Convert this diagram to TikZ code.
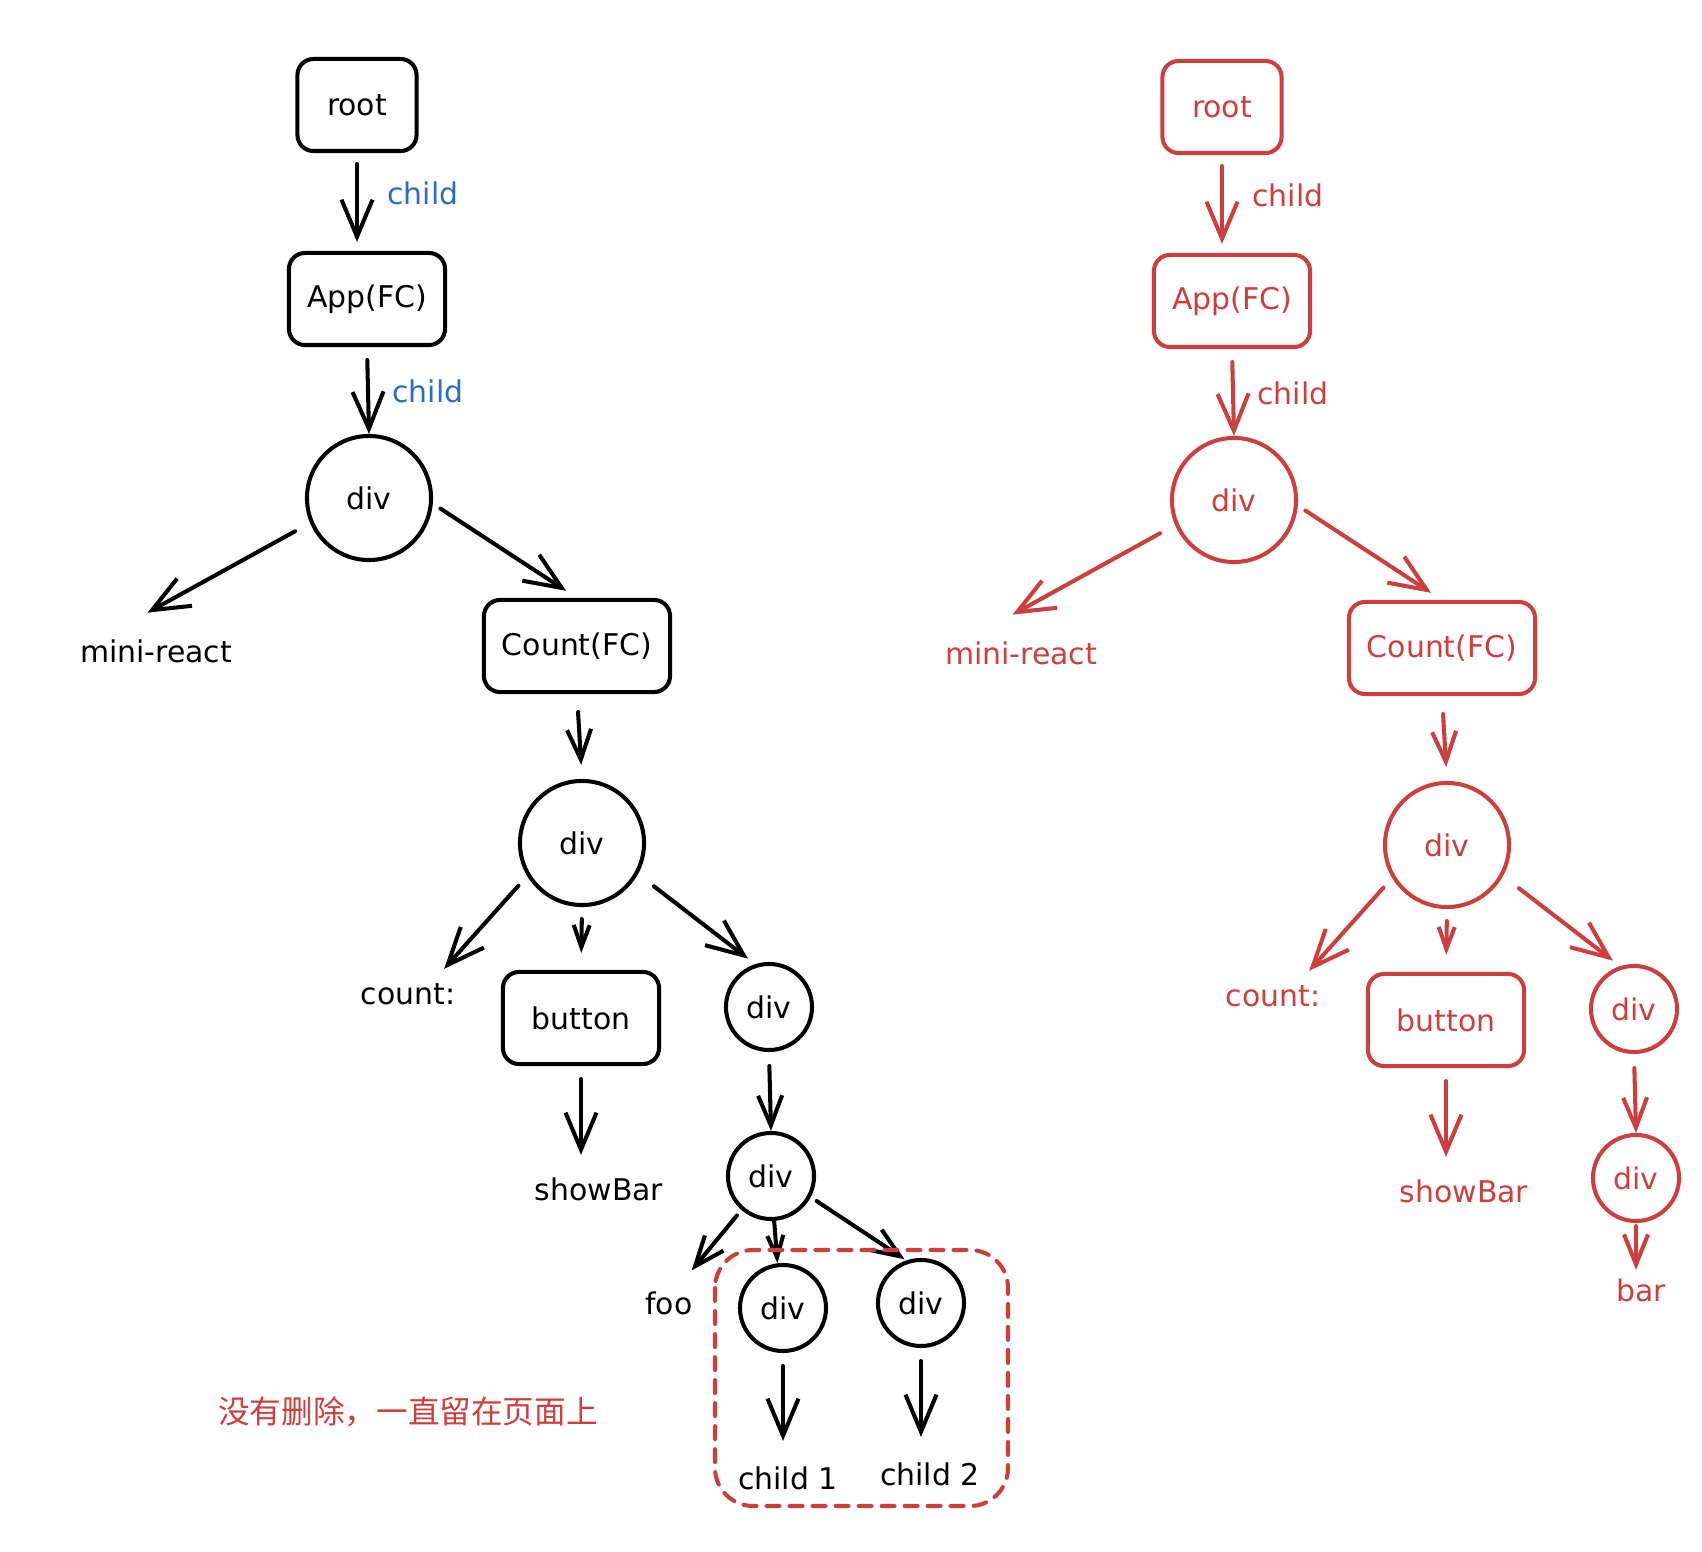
\documentclass[tikz,border=0pt]{standalone}
\usepackage{fontspec}
\setmainfont{DejaVu Sans}
\newfontfamily\zhfont{Noto Sans CJK SC}
\usetikzlibrary{arrows.meta}
\definecolor{exred}{RGB}{206,62,62}
\definecolor{exblue}{RGB}{46,108,192}
\begin{document}
\begin{tikzpicture}[x=0.01cm,y=-0.01cm,line width=1.15pt,line cap=round,line join=round,
  font=\fontsize{8.5}{10}\selectfont,
  box/.style={draw,rounded corners=0.16cm,minimum height=0.92cm,inner sep=0pt},
  bigdiv/.style={draw,circle,minimum size=1.24cm,inner sep=0pt},
  smalldiv/.style={draw,circle,minimum size=0.86cm,inner sep=0pt},
  lbl/.style={inner sep=1pt},
  arr/.style={draw,-{Straight Barb[length=0.37cm,width=0.31cm]}},
  marr/.style={draw,-{Straight Barb[length=0.3cm,width=0.24cm]}},
  sarr/.style={draw,-{Straight Barb[length=0.22cm,width=0.16cm]}}]
\useasboundingbox(0,0)rectangle(1702,1552);
% the same upper tree twice: black on the left, red on the right
\foreach \dx/\dy/\col/\lcol/\p in {0/0/black/exblue/l,865/2/exred/exred/r}{
\begin{scope}[shift={(\dx,\dy)},name prefix=\p-,color=\col]
\node[box,minimum width=1.19cm](root)at(357,105){root};
\node[box,minimum width=1.56cm](app)at(367,299){App(FC)};
\node[bigdiv](div1)at(369,498){div};
\node[lbl](mini)at(156,651){mini-react};
\node[box,minimum width=1.86cm](cnt)at(577,646){Count(FC)};
\node[bigdiv](div2)at(582,843){div};
\node[lbl](countlbl)at(408,994){count:};
\node[box,minimum width=1.56cm](btn)at(581,1018){button};
\node[smalldiv](div3)at(769,1007){div};
\node[lbl](showbar)at(599,1189){showBar};
\node[smalldiv](div4)at(771,1176){div};
\node[lbl,text=\lcol](child1)at(423,193){child};
\node[lbl,text=\lcol](child2)at(428,391){child};
\draw[arr,shorten <=0.11cm,shorten >=0.09cm](root.south)--(root.south|-app.north);
\draw[arr,shorten <=0.13cm](app.south)--(div1.north);
\draw[arr,shorten <=0.17cm,shorten >=0.44cm](div1.203)--(mini.160);
\draw[arr,shorten <=0.09cm,shorten >=0.13cm](div1.-5)--(cnt.north);
\draw[marr,shorten <=0.18cm,shorten >=0.14cm](cnt.south)--(div2.north);
\draw[arr,shorten <=0.13cm,shorten >=0.12cm](div2.211)--(countlbl.30);
\draw[sarr,shorten <=0.12cm,shorten >=0.17cm](div2.south)--(btn.north);
\draw[arr,shorten <=0.2cm,shorten >=0.09cm](div2.-29)--(div3.108);
\draw[arr,shorten <=0.13cm,shorten >=0.17cm](btn.south)--(btn.south|-showbar.north);
\draw[marr,shorten <=0.14cm](div3.south)--(div4.north);
\end{scope}}
% left: the two kept children
\node[lbl](foo)at(669,1303){foo};
\node[smalldiv](div5)at(783,1308){div};
\node[smalldiv](div6)at(921,1303){div};
\node[lbl](kid1)at(788,1478){child 1};
\node[lbl](kid2)at(930,1474){child 2};
\draw[marr,shorten <=0.07cm,shorten >=0.2cm](l-div4.229)--(foo.60);
\draw[sarr](l-div4.-86)--(div5.97);
\draw[marr,shorten <=0.07cm,shorten >=0.02cm](l-div4.-28)--(div6.109);
\draw[arr,shorten <=0.13cm,shorten >=0.2cm](div5.south)--(div5.south|-kid1.north);
\draw[arr,shorten <=0.13cm,shorten >=0.2cm](div6.south)--(div6.south|-kid2.north);
\draw[exred,dash pattern=on 0.13cm off 0.1cm,rounded corners=0.38cm](715,1250)rectangle(1008,1506);
\node[text=exred,font=\zhfont\fontsize{9}{11}\selectfont](note)at(408,1412){没有删除，一直留在页面上};
% right: bar
\node[lbl,text=exred](bar)at(1641,1290){bar};
\draw[marr,exred,shorten <=0.03cm,shorten >=0.03cm](r-div4.south)--(r-div4.south|-bar.north);
\end{tikzpicture}
\end{document}
